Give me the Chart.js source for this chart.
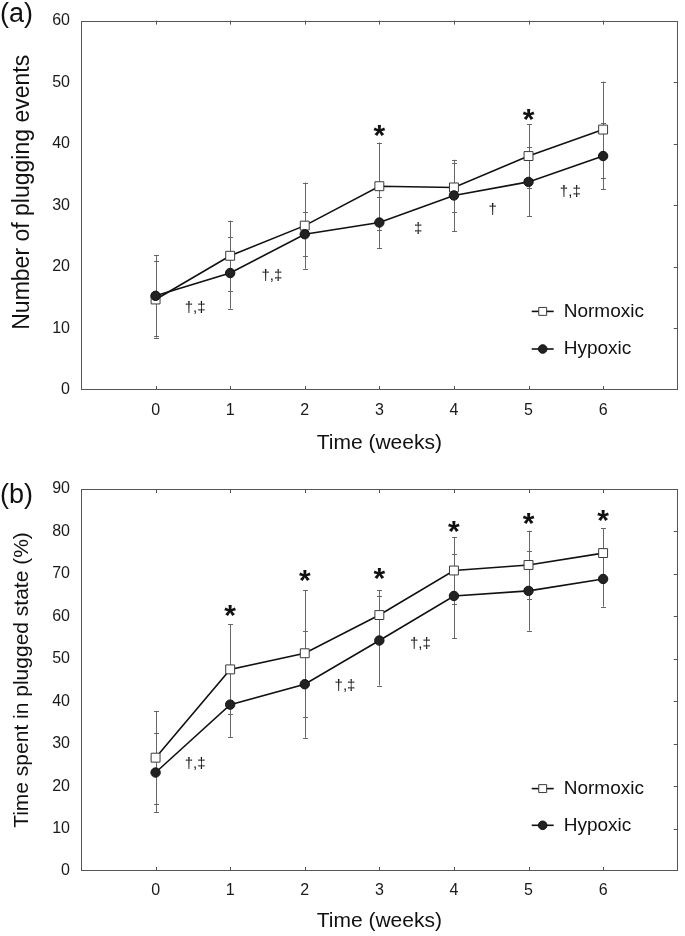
<!DOCTYPE html>
<html><head><meta charset="utf-8">
<script src="https://cdn.jsdelivr.net/npm/chart.js@4.4.1/dist/chart.umd.min.js"></script>
<style>
html,body{margin:0;padding:0;background:#fff;}
#wa{position:absolute;left:0;top:0;width:685px;height:460px;}
#wb{position:absolute;left:0;top:460px;width:685px;height:476px;}
canvas{display:block;}
</style></head><body>
<div id="wa"><canvas id="ca" width="685" height="460"></canvas></div>
<div id="wb"><canvas id="cb" width="685" height="476"></canvas></div>
<script>
// ---- data ----
const weeks = [0, 1, 2, 3, 4, 5, 6];
const xTickLabels = ['0', '1', '2', '3', '4', '5', '6'];
const seriesNames = ['Normoxic', 'Hypoxic'];

const plugNormoxic   = [14.7, 21.8, 26.7, 33.1, 32.9, 38.0, 42.3];
const plugNormoxicSD = [6.2, 5.7, 7.0, 7.1, 4.0, 5.2, 7.8];
const plugHypoxic    = [15.3, 19.0, 25.3, 27.2, 31.6, 33.8, 38.0];
const plugHypoxicSD  = [6.6, 5.8, 3.6, 4.1, 5.8, 5.6, 5.4];

const timeNormoxic   = [26.7, 47.5, 51.3, 60.3, 70.8, 72.1, 74.9];
const timeNormoxicSD = [11.0, 10.6, 14.9, 5.8, 7.9, 8.1, 5.9];
const timeHypoxic    = [23.2, 39.2, 44.0, 54.3, 64.8, 66.0, 68.8];
const timeHypoxicSD  = [9.4, 7.6, 12.6, 10.6, 9.9, 9.4, 6.5];

// significance marks (data coordinates)
const plugMarkX    = [3, 5, 0.53, 1.56, 3.52, 4.52, 5.56];
const plugMarkY    = [42.4, 45.1, 13.3, 18.6, 26.2, 29.2, 32.2];
const plugMarkText = ['*', '*', '†,‡', '†,‡', '‡', '†', '†,‡'];

const timeMarkX    = [1, 2, 3, 4, 5, 6, 0.53, 2.54, 3.55];
const timeMarkY    = [61.9, 70.2, 70.6, 81.6, 83.5, 84.3, 25.3, 43.6, 53.5];
const timeMarkText = ['*', '*', '*', '*', '*', '*', '†,‡', '†,‡', '†,‡'];

// ---- rendering ----
const FONT = "'Liberation Sans', Arial, Helvetica, sans-serif";
Chart.defaults.font.family = FONT;
Chart.defaults.color = '#1a1a1a';

const LINE = '#111';
const FRAME = '#555';
const ERR = '#666';

function styleFor(i) {
  return i === 0
    ? { pointStyle: 'rect', radius: 6.3, bg: '#fff', border: '#3a3a3a' }
    : { pointStyle: 'circle', radius: 4.7, bg: '#222', border: '#111' };
}

function makeDatasets(means, sds) {
  return means.map((m, i) => {
    const s = styleFor(i);
    return {
      label: seriesNames[i],
      data: weeks.map((w, j) => ({ x: w, y: m[j] })),
      sd: sds[i],
      order: i === 0 ? 1 : 0,
      borderColor: LINE,
      borderWidth: 1.6,
      tension: 0,
      pointStyle: s.pointStyle,
      pointRadius: s.radius,
      pointHoverRadius: s.radius,
      pointBackgroundColor: s.bg,
      pointBorderColor: s.border,
      pointBorderWidth: 1,
      fill: false
    };
  });
}

function panelPlugin(opts) {
  return {
    id: 'panelDecor',
    beforeDatasetsDraw(chart) {
      const ctx = chart.ctx, xs = chart.scales.x, ys = chart.scales.y;
      ctx.save();
      ctx.strokeStyle = ERR;
      ctx.lineWidth = 1;
      chart.data.datasets.forEach(ds => {
        ds.data.forEach((p, j) => {
          const px = Math.round(xs.getPixelForValue(p.x)) + 0.5;
          const yt = ys.getPixelForValue(p.y + ds.sd[j]);
          const yb = ys.getPixelForValue(p.y - ds.sd[j]);
          ctx.beginPath();
          ctx.moveTo(px, yt); ctx.lineTo(px, yb);
          ctx.moveTo(px - 2.5, Math.round(yt) + 0.5); ctx.lineTo(px + 2.5, Math.round(yt) + 0.5);
          ctx.moveTo(px - 2.5, Math.round(yb) + 0.5); ctx.lineTo(px + 2.5, Math.round(yb) + 0.5);
          ctx.stroke();
        });
      });
      ctx.restore();
    },
    afterDraw(chart) {
      const ctx = chart.ctx, xs = chart.scales.x, ys = chart.scales.y;
      const a = chart.chartArea;
      ctx.save();
      // frame
      ctx.strokeStyle = FRAME;
      ctx.lineWidth = 1;
      ctx.strokeRect(Math.round(a.left) + 0.5, Math.round(a.top) + 0.5,
        Math.round(a.right - a.left) - 1, Math.round(a.bottom - a.top) - 1);
      // inward ticks
      ctx.beginPath();
      xs.ticks.forEach(t => {
        const px = Math.round(xs.getPixelForValue(t.value)) + 0.5;
        ctx.moveTo(px, a.top); ctx.lineTo(px, a.top + 4);
        ctx.moveTo(px, a.bottom); ctx.lineTo(px, a.bottom - 4);
      });
      ys.ticks.forEach(t => {
        if (t.value <= ys.min || t.value >= ys.max) return;
        const py = Math.round(ys.getPixelForValue(t.value)) + 0.5;
        ctx.moveTo(a.right, py); ctx.lineTo(a.right - 4, py);
      });
      ctx.stroke();

      // y-axis title
      ctx.save();
      ctx.translate(opts.yTitleX, (a.top + a.bottom) / 2 + opts.yTitleShift);
      ctx.rotate(-Math.PI / 2);
      ctx.fillStyle = '#111';
      ctx.font = opts.yTitleSize + 'px ' + FONT;
      ctx.textAlign = 'center';
      ctx.textBaseline = 'middle';
      ctx.fillText(opts.yTitle, 0, 0);
      ctx.restore();

      // significance marks
      ctx.fillStyle = '#111';
      ctx.textAlign = 'center';
      opts.markText.forEach((t, k) => {
        const px = xs.getPixelForValue(opts.markX[k]);
        const py = ys.getPixelForValue(opts.markY[k]);
        if (t === '*') {
          ctx.font = 'bold 30px ' + FONT;
          ctx.textBaseline = 'alphabetic';
          ctx.fillText(t, px, py + 16.5);
        } else {
          ctx.font = '15px ' + FONT;
          ctx.textBaseline = 'middle';
          ctx.fillText(t, px, py);
        }
      });

      // legend
      chart.data.datasets.forEach((ds, i) => {
        const ly = a.bottom - opts.legendOffsets[i];
        const x1 = a.right - 146, x2 = a.right - 124;
        ctx.strokeStyle = LINE;
        ctx.lineWidth = 1.6;
        ctx.beginPath(); ctx.moveTo(x1, ly); ctx.lineTo(x2, ly); ctx.stroke();
        const s = styleFor(i);
        ctx.fillStyle = s.bg; ctx.strokeStyle = s.border; ctx.lineWidth = 1;
        Chart.helpers.drawPoint(ctx, { pointStyle: s.pointStyle, rotation: 0, radius: i === 0 ? 5.6 : 4.3, borderWidth: 1 }, (x1 + x2) / 2, ly);
        ctx.fillStyle = '#111';
        ctx.font = '19px ' + FONT;
        ctx.textAlign = 'left';
        ctx.textBaseline = 'middle';
        ctx.fillText(ds.label, a.right - 114, ly);
      });

      // panel label
      ctx.fillStyle = '#111';
      ctx.font = '27px ' + FONT;
      ctx.textAlign = 'left';
      ctx.textBaseline = 'middle';
      ctx.fillText(opts.panel, 0, opts.panelY);
      ctx.restore();
    }
  };
}

function makeChart(canvasId, means, sds, yMax, opts) {
  return new Chart(document.getElementById(canvasId), {
    type: 'line',
    data: { datasets: makeDatasets(means, sds) },
    options: {
      responsive: false,
      animation: false,
      devicePixelRatio: 1,
      layout: { padding: { top: opts.padTop, right: 2, left: 0, bottom: 0 } },
      plugins: { legend: { display: false }, tooltip: { enabled: false } },
      scales: {
        x: {
          type: 'linear', min: -1, max: 7,
          afterBuildTicks: s => { s.ticks = weeks.map(v => ({ value: v })); },
          afterFit: s => { s.height = opts.xHeight; },
          grid: { display: false, drawTicks: false },
          border: { display: false },
          ticks: {
            padding: opts.xTickPad, color: '#1a1a1a', font: { size: 16 },
            callback: v => xTickLabels[weeks.indexOf(v)]
          },
          title: { display: true, text: 'Time (weeks)', color: '#111', font: { size: 21 },
                   padding: { top: 0, bottom: opts.xTitlePad } }
        },
        y: {
          min: 0, max: yMax,
          afterFit: s => { s.width = 81; },
          grid: { display: false, drawTicks: false },
          border: { display: false },
          ticks: { stepSize: 10, padding: 11, color: '#1a1a1a', font: { size: 16 } },
          title: { display: false }
        }
      }
    },
    plugins: [panelPlugin(opts)]
  });
}

makeChart('ca', [plugNormoxic, plugHypoxic], [plugNormoxicSD, plugHypoxicSD], 60,
  { padTop: 10, xHeight: 70, xTickPad: 11, xTitlePad: 4,
    yTitle: 'Number of plugging events', yTitleSize: 23, yTitleX: 23, yTitleShift: -13,
    markX: plugMarkX, markY: plugMarkY, markText: plugMarkText,
    legendOffsets: [78.6, 41], panel: '(a)', panelY: 15 });

makeChart('cb', [timeNormoxic, timeHypoxic], [timeNormoxicSD, timeHypoxicSD], 90,
  { padTop: 29, xHeight: 65, xTickPad: 10, xTitlePad: 2,
    yTitle: 'Time spent in plugged state (%)', yTitleSize: 21, yTitleX: 22.5, yTitleShift: 0,
    markX: timeMarkX, markY: timeMarkY, markText: timeMarkText,
    legendOffsets: [82.4, 45.7], panel: '(b)', panelY: 36 });
</script>
</body></html>
